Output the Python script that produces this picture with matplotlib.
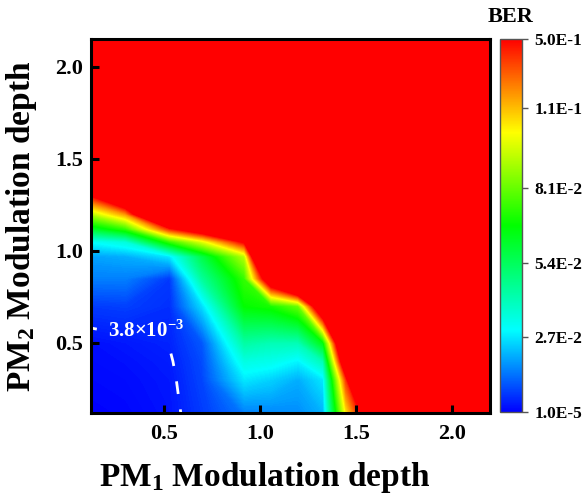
import numpy as np
import matplotlib
matplotlib.use("Agg")
import matplotlib.pyplot as plt
from matplotlib.colors import LinearSegmentedColormap, Normalize
from matplotlib.cm import ScalarMappable

# ---------------- data ----------------
pm1 = [0.1, 0.3, 0.53, 0.7, 0.92, 1.06, 1.2, 1.33, 1.45, 1.55, 1.75, 2.2]
pm2 = [0.1, 0.3, 0.4, 0.5, 0.7, 0.85, 0.97, 1.05, 1.12, 1.2, 1.3, 1.45, 2.2]

ber = [
    [1.0e-5, 5.4e-4, 2.16e-3, 6.75e-3, 0.0135, 0.0149, 0.0162, 0.0203, 0.101, 0.142, 0.5, 0.5],
    [8.1e-4, 1.35e-3, 2.7e-3, 8.1e-3, 0.027, 0.0243, 0.0203, 0.027, 0.128, 0.216, 0.5, 0.5],
    [1.22e-3, 1.89e-3, 3.24e-3, 8.78e-3, 0.0338, 0.0324, 0.0284, 0.0405, 0.162, 0.338, 0.5, 0.5],
    [1.62e-3, 2.7e-3, 4.05e-3, 0.0101, 0.0432, 0.0405, 0.0405, 0.0648, 0.189, 0.5, 0.5, 0.5],
    [6.75e-3, 7.43e-3, 5.4e-3, 0.0257, 0.0675, 0.0702, 0.081, 0.169, 0.5, 0.5, 0.5, 0.5],
    [0.0149, 0.0149, 6.75e-3, 0.0446, 0.0743, 0.162, 0.216, 0.5, 0.5, 0.5, 0.5, 0.5],
    [0.0189, 0.0203, 0.027, 0.0567, 0.0918, 0.243, 0.5, 0.5, 0.5, 0.5, 0.5, 0.5],
    [0.0297, 0.0351, 0.0743, 0.0972, 0.138, 0.5, 0.5, 0.5, 0.5, 0.5, 0.5, 0.5],
    [0.0594, 0.0743, 0.131, 0.155, 0.27, 0.5, 0.5, 0.5, 0.5, 0.5, 0.5, 0.5],
    [0.0891, 0.115, 0.216, 0.27, 0.5, 0.5, 0.5, 0.5, 0.5, 0.5, 0.5, 0.5],
    [0.131, 0.176, 0.338, 0.5, 0.5, 0.5, 0.5, 0.5, 0.5, 0.5, 0.5, 0.5],
    [0.203, 0.27, 0.5, 0.5, 0.5, 0.5, 0.5, 0.5, 0.5, 0.5, 0.5, 0.5],
    [0.5, 0.5, 0.5, 0.5, 0.5, 0.5, 0.5, 0.5, 0.5, 0.5, 0.5, 0.5],
]

cbar_ticks = [1.0e-5, 2.7e-2, 5.4e-2, 8.1e-2, 1.1e-1, 1.35e-1]
cbar_labels = ["1.0E-5", "2.7E-2", "5.4E-2", "8.1E-2", "1.1E-1", "5.0E-1"]
fec_limit = 3.8e-3
fec_label = r"3.8×10$^{\mathbf{-3}}$"
x_ticks = [0.5, 1.0, 1.5, 2.0]
y_ticks = [0.5, 1.0, 1.5, 2.0]

# ---------------- style ----------------
plt.rcParams.update({
    "font.family": ["Liberation Serif", "DejaVu Serif"],
    "font.weight": "bold",
    "axes.labelweight": "bold",
    "axes.titleweight": "bold",
    "mathtext.fontset": "custom",
    "mathtext.rm": "Liberation Serif:bold",
    "mathtext.bf": "Liberation Serif:bold",
    "mathtext.it": "Liberation Serif:italic:bold",
    "axes.linewidth": 2.2,
})

fig = plt.figure(figsize=(5.86, 4.95), dpi=100)
ax = fig.add_axes([91 / 586, 82 / 495, 399 / 586, 374 / 495])

cmap = LinearSegmentedColormap.from_list(
    "ber",
    [(0.0, (0, 0, 1)), (0.22, (0, 1, 1)), (0.5, (0, 1, 0)), (0.75, (1, 1, 0)), (1.0, (1, 0, 0))],
    N=512,
)
cmap.set_over((1, 0, 0))
cmap.set_under((0, 0, 1))
norm = Normalize(vmin=cbar_ticks[0], vmax=cbar_ticks[-1])
levels = np.linspace(norm.vmin, norm.vmax, 300)

ax.contourf(pm1, pm2, ber, levels=levels, cmap=cmap, norm=norm,
            extend="both", antialiased=False)
cs = ax.contour(pm1, pm2, ber, levels=[fec_limit], colors="white", linewidths=2.0)
cs.set_linestyle((0, (4.6, 5.6)))
texts = ax.clabel(cs, fmt={fec_limit: fec_label}, inline=True, fontsize=15,
                  manual=[(0.36, 0.545)], inline_spacing=2)
for t in texts:
    t.set_rotation(0)
    px, py = t.get_position()
    t.set_position((px + 0.05, py + 0.03))

ax.set_xlim(0.12, 2.2)
ax.set_ylim(0.12, 2.15)
ax.set_xticks(x_ticks)
ax.set_yticks(y_ticks)
ax.tick_params(axis="both", direction="in", length=6, width=2.2, labelsize=16,
               top=False, right=False)
ax.tick_params(axis="x", pad=8)
ax.tick_params(axis="y", pad=6)
ax.set_xlabel(r"PM$_{\mathbf{1}}$ Modulation depth", fontsize=24)
ax.set_ylabel(r"PM$_{\mathbf{2}}$ Modulation depth", fontsize=24)
ax.xaxis.set_label_coords(0.434, -0.125)
ax.yaxis.set_label_coords(-0.13, 0.5)

# ---------------- colorbar ----------------
cax = fig.add_axes([500 / 586, 83 / 495, 22 / 586, 373 / 495])
sm = ScalarMappable(norm=norm, cmap=cmap)
cb = fig.colorbar(sm, cax=cax, ticks=cbar_ticks)
cb.set_ticklabels(cbar_labels)
cb.outline.set_edgecolor("#555555")
cb.outline.set_linewidth(1.0)
cax.tick_params(direction="out", length=4.3, width=1, color="#555555", labelsize=12.5, pad=4.5)
cax.set_title("BER", fontsize=16, pad=12)

fig.savefig("out.png", dpi=100)
